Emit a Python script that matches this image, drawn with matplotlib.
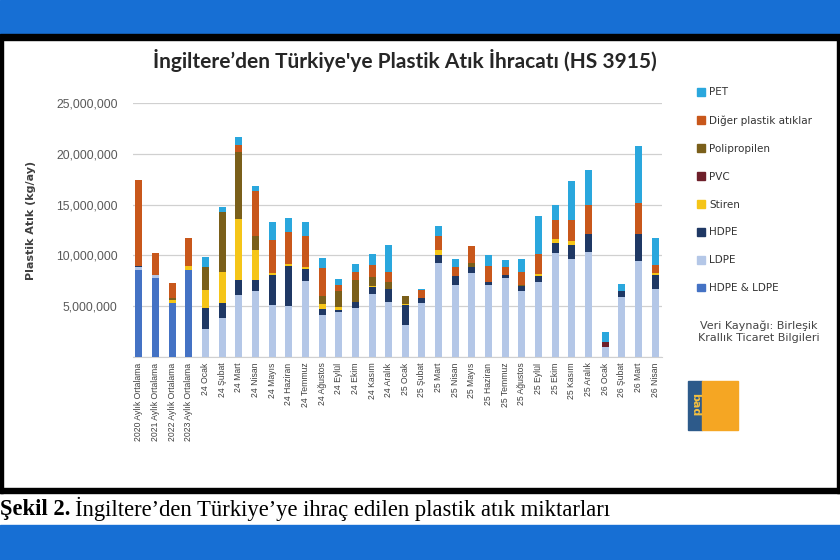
import matplotlib
matplotlib.use('Agg')
import matplotlib.pyplot as plt
from matplotlib.patches import Rectangle, Patch
import numpy as np

categories = ['2020 Aylık Ortalama', '2021 Aylık Ortalama', '2022 Aylık Ortalama', '2023 Aylık Ortalama',
              '24 Ocak', '24 Şubat', '24 Mart', '24 Nisan', '24 Mayıs', '24 Haziran', '24 Temmuz',
              '24 Ağustos', '24 Eylül', '24 Ekim', '24 Kasım', '24 Aralık',
              '25 Ocak', '25 Şubat', '25 Mart', '25 Nisan', '25 Mayıs', '25 Haziran', '25 Temmuz',
              '25 Ağustos', '25 Eylül', '25 Ekim', '25 Kasım', '25 Aralık',
              '26 Ocak', '26 Şubat', '26 Mart', '26 Nisan']

# values in million kg / month
hdpe_ldpe = [8.6, 7.8, 5.35, 8.55, 0, 0, 0, 0, 0, 0, 0, 0, 0, 0, 0, 0,
             0, 0, 0, 0, 0, 0, 0, 0, 0, 0, 0, 0, 0, 0, 0, 0]
ldpe = [0.3, 0.25, 0, 0, 2.75, 3.85, 6.1, 6.45, 5.1, 5.0, 7.5, 4.15, 4.45, 4.8, 6.2, 5.4,
        3.15, 5.35, 9.3, 7.05, 8.25, 7.1, 7.8, 6.45, 7.35, 10.2, 9.65, 10.3, 1.0, 5.95, 9.4, 6.7]
hdpe = [0.1, 0, 0, 0, 2.05, 1.45, 1.45, 1.1, 3.0, 4.0, 1.2, 0.6, 0.15, 0.6, 0.65, 1.25,
        1.95, 0.45, 0.75, 0.95, 0.65, 0.25, 0.25, 0.5, 0.6, 1.0, 1.4, 1.8, 0, 0.55, 2.75, 1.4]
stiren = [0, 0, 0.3, 0.45, 1.75, 3.1, 6.05, 2.95, 0.2, 0.15, 0.2, 0.45, 0.35, 0, 0.15, 0,
          0.15, 0, 0.45, 0, 0, 0, 0, 0, 0.2, 0.45, 0.4, 0, 0, 0, 0, 0.15]
pvc = [0, 0, 0, 0, 0, 0, 0, 0, 0, 0, 0, 0, 0, 0, 0, 0,
       0, 0, 0, 0, 0, 0, 0, 0, 0, 0, 0, 0, 0.5, 0, 0, 0]
polipropilen = [0, 0, 0.15, 0, 2.35, 5.9, 6.55, 1.4, 0, 0, 0, 0.8, 1.5, 2.2, 0.9, 0.7,
                0.8, 0, 0, 0, 0.4, 0, 0, 0.15, 0, 0, 0, 0, 0, 0, 0, 0]
diger = [8.45, 2.15, 1.5, 2.75, 0, 0, 0.75, 4.4, 3.2, 3.2, 3.05, 2.75, 0.6, 0.8, 1.15, 1.05,
         0, 0.8, 1.45, 0.85, 1.6, 1.65, 0.8, 1.3, 2.0, 1.85, 2.05, 2.9, 0, 0, 3.05, 0.85]
pet = [0, 0, 0, 0, 0.9, 0.5, 0.75, 0.55, 1.75, 1.35, 1.3, 1.0, 0.6, 0.75, 1.05, 2.65,
       0, 0.1, 0.95, 0.8, 0, 1.0, 0.65, 1.25, 3.75, 1.5, 3.8, 3.45, 0.95, 0.65, 5.55, 2.6]

series = [('HDPE & LDPE', hdpe_ldpe, '#4472c4'),
          ('LDPE', ldpe, '#b4c7e7'),
          ('HDPE', hdpe, '#1f3864'),
          ('Stiren', stiren, '#f5c518'),
          ('PVC', pvc, '#6e1f2a'),
          ('Polipropilen', polipropilen, '#7a5f1a'),
          ('Diğer plastik atıklar', diger, '#c8571b'),
          ('PET', pet, '#2aa7dd')]

W, H = 840, 560
fig = plt.figure(figsize=(8.4, 5.6), dpi=100)

# page frame: blue bands and black border
fig.patches.append(Rectangle((0, 1 - 34/H), 1, 34/H, transform=fig.transFigure, color='#176fd4', zorder=0))
fig.patches.append(Rectangle((0, 1 - 40/H), 1, 6/H, transform=fig.transFigure, color='black', zorder=0))
fig.patches.append(Rectangle((0, 1 - 493/H), 1, 5/H, transform=fig.transFigure, color='black', zorder=0))
fig.patches.append(Rectangle((0, 0), 1, 35/H, transform=fig.transFigure, color='#176fd4', zorder=0))
fig.patches.append(Rectangle((0, 1 - 493/H), 3/W, 453/H, transform=fig.transFigure, color='black', zorder=0))
fig.patches.append(Rectangle((1 - 3/W, 1 - 493/H), 3/W, 453/H, transform=fig.transFigure, color='black', zorder=0))

ax = fig.add_axes([133/W, 1 - 357/H, (662 - 133)/W, (357 - 103)/H])
x = np.arange(len(categories))
bottom = np.zeros(len(categories))
for name, vals, col in series:
    v = np.array(vals) * 1e6
    ax.bar(x, v, 0.42, bottom=bottom, color=col, label=name, zorder=3)
    bottom += v

ax.set_ylim(0, 25e6)
ax.set_xlim(-0.36, len(categories) - 0.58)
ax.set_yticks(np.arange(0, 25e6 + 1, 5e6))
ax.set_yticklabels(['', '5,000,000', '10,000,000', '15,000,000', '20,000,000', '25,000,000'],
                   fontsize=8.8, color='#595959', family='Liberation Sans')
ax.set_xticks(x)
ax.set_xticklabels(categories, rotation=90, fontsize=6.2, color='#404040', family='Liberation Sans')
ax.tick_params(length=0, pad=4)
ax.tick_params(axis='y', pad=11)
ax.yaxis.grid(True, color='#d0d0d0', lw=0.9, zorder=0)
for s in ['top', 'right', 'left']:
    ax.spines[s].set_visible(False)
ax.spines['bottom'].set_color('#d0d0d0')
ax.set_ylabel('Plastik Atık (kg/ay)', fontsize=8, fontweight='bold', color='#404040')
ax.yaxis.set_label_coords((36 - 133)/529, (357 - 220)/254)

fig.text(405/W, 1 - 60/H, 'İngiltere’den Türkiye\'ye Plastik Atık İhracatı (HS 3915)',
         ha='center', va='center', fontsize=15, fontweight='bold', family='Lato', color='#262626')

handles = [Patch(color=c) for n, v, c in series][::-1]
labels = [n for n, v, c in series][::-1]
fig.legend(handles, labels, loc='upper left', bbox_to_anchor=(688/W, 1 - 78/H), frameon=False,
           fontsize=7.5, handlelength=0.75, handleheight=0.75, handletextpad=0.4, labelspacing=1.72,
           labelcolor='#333333')

fig.text(759/W, 1 - 332/H, 'Veri Kaynağı: Birleşik\nKrallık Ticaret Bilgileri', ha='center', va='center',
         fontsize=8, color='#444444', linespacing=1.3)

# logo
fig.patches.append(Rectangle((688/W, 1 - 430/H), 14/W, 49/H, transform=fig.transFigure, color='#2d5a8a'))
fig.patches.append(Rectangle((702/W, 1 - 430/H), 36/W, 49/H, transform=fig.transFigure, color='#f5a623'))
fig.text(695/W, 1 - 405/H, 'bad', rotation=-90, ha='center', va='center', fontsize=8, color='#f5c040',
         fontweight='bold')

# caption
t1 = fig.text(0, 1 - 509/H, 'Şekil 2.', fontsize=16.3, fontweight='bold', family='Liberation Serif',
              va='center', ha='left')
fig.canvas.draw()
bb = t1.get_window_extent()
fig.text(bb.x1 / W + 5/W, 1 - 509/H, 'İngiltere’den Türkiye’ye ihraç edilen plastik atık miktarları',
         fontsize=16.3, family='Liberation Serif', va='center', ha='left')

fig.savefig('out.png', dpi=100)
